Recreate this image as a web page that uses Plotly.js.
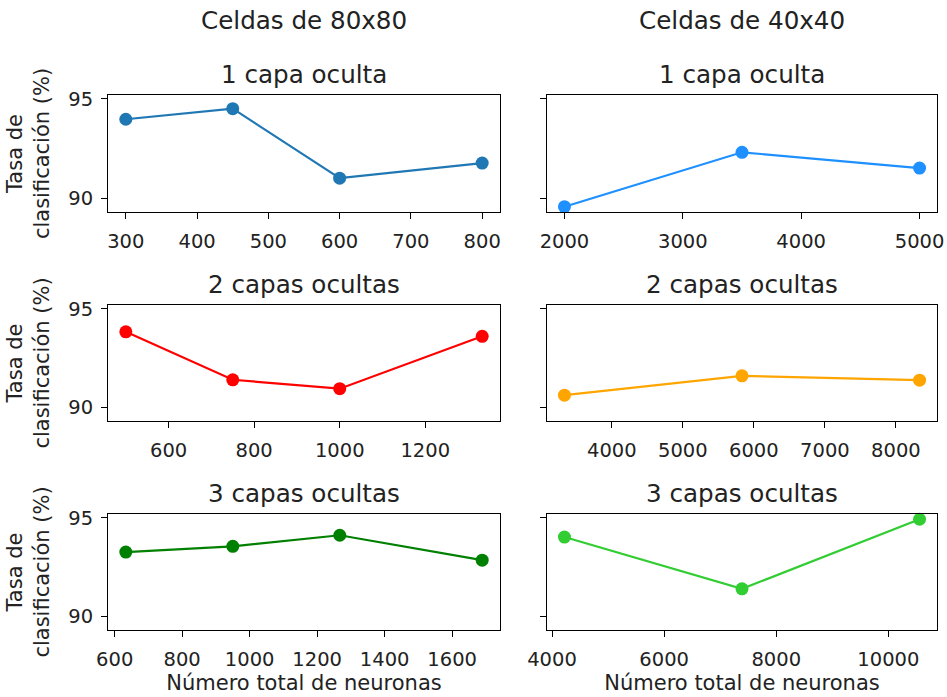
<!DOCTYPE html>
<html>
<head>
<meta charset="utf-8">
<script src="https://cdn.plot.ly/plotly-3.0.1.min.js"></script>
<style>html,body{margin:0;padding:0;background:#fff;}#chart{width:947px;height:697px;}</style>
</head>
<body>
<div id="chart"></div>
<script>
// ---- data ----
const colTitles = ["Celdas de 80x80", "Celdas de 40x40"];
const rowTitles = ["1 capa oculta", "2 capas ocultas", "3 capas ocultas"];

const x80_1 = [300, 450, 600, 800];
const y80_1 = [93.97, 94.50, 91.01, 91.77];
const x80_2 = [500, 750, 1000, 1333];
const y80_2 = [93.83, 91.40, 90.95, 93.60];
const x80_3 = [633, 950, 1267, 1689];
const y80_3 = [93.26, 93.55, 94.11, 92.85];

const x40_1 = [2000, 3500, 5000];
const y40_1 = [89.58, 92.31, 91.52];
const x40_2 = [3333, 5833, 8333];
const y40_2 = [90.62, 91.60, 91.38];
const x40_3 = [4222, 7389, 10556];
const y40_3 = [94.02, 91.40, 94.92];

const yTickVals = [90, 95];
const xLabel = "Número total de neuronas";
const yLabel = "Tasa de<br>clasificación (%)";

// ---- build ----
const W = 947, H = 697;
const font = "DejaVu Sans, sans-serif";
const TICK = 19.5, LABEL = 21, TITLE = 24.6;
function pad(a) {
  const mn = Math.min(...a), mx = Math.max(...a), d = (mx - mn) * 0.05;
  return [mn - d, mx + d];
}
const series = [
  {x: x80_1, y: y80_1, c: "#1f77b4", r: 0, col: 0, dt: 100},
  {x: x40_1, y: y40_1, c: "#1e90ff", r: 0, col: 1, dt: 1000},
  {x: x80_2, y: y80_2, c: "#ff0000", r: 1, col: 0, dt: 200},
  {x: x40_2, y: y40_2, c: "#ffa500", r: 1, col: 1, dt: 1000},
  {x: x80_3, y: y80_3, c: "#008000", r: 2, col: 0, dt: 200},
  {x: x40_3, y: y40_3, c: "#32cd32", r: 2, col: 1, dt: 2000}
];
const allY = [].concat(y80_1, y80_2, y80_3, y40_1, y40_2, y40_3);
const yRange = pad(allY);

const colPx = [[108, 500], [546.7, 937.3]];
const rowPx = [[95, 212], [305, 421], [514, 630]];

const traces = [];
const layout = {
  width: W, height: H,
  margin: {l: 0, r: 0, t: 0, b: 0},
  paper_bgcolor: "#fff", plot_bgcolor: "#fff",
  showlegend: false,
  font: {family: font, color: "#000", size: TICK},
  annotations: []
};

series.forEach((s, i) => {
  const n = i + 1;
  const sfx = n === 1 ? "" : String(n);
  const xa = "xaxis" + sfx, ya = "yaxis" + sfx;
  traces.push({
    x: s.x, y: s.y, type: "scatter", mode: "lines+markers",
    xaxis: "x" + sfx, yaxis: "y" + sfx,
    line: {color: s.c, width: 2.2},
    marker: {color: s.c, size: 13},
    cliponaxis: false, hoverinfo: "x+y"
  });
  const cp = colPx[s.col], rp = rowPx[s.r];
  layout[xa] = {
    domain: [cp[0] / W, cp[1] / W],
    anchor: "y" + sfx,
    range: pad(s.x), tick0: 0, dtick: s.dt, tickformat: "d",
    showgrid: false, zeroline: false,
    showline: true, mirror: true, linecolor: "#000", linewidth: 1,
    ticks: "outside", ticklen: 6, tickcolor: "#000", ticklabelstandoff: 6,
    tickfont: {size: TICK, family: font, color: "#222"}
  };
  if (s.r === 2) {
    layout[xa].title = {text: xLabel, font: {size: LABEL, family: font, color: "#222"}, standoff: 4};
  }
  layout[ya] = {
    domain: [1 - rp[1] / H, 1 - rp[0] / H],
    anchor: "x" + sfx,
    range: yRange, tickvals: yTickVals,
    showgrid: false, zeroline: false,
    showline: true, mirror: true, linecolor: "#000", linewidth: 1,
    ticks: "outside", ticklen: 6, tickcolor: "#000", ticklabelstandoff: 4,
    showticklabels: s.col === 0,
    tickfont: {size: TICK, family: font, color: "#222"}
  };
  if (s.col === 0) {
    layout[ya].title = {text: yLabel, font: {size: LABEL, family: font, color: "#222"}, standoff: 12};
  }
  layout.annotations.push({
    text: rowTitles[s.r], xref: "paper", yref: "paper",
    x: (cp[0] + cp[1]) / 2 / W, y: 1 - (rp[0] - 4) / H,
    xanchor: "center", yanchor: "bottom", showarrow: false,
    font: {size: TITLE, family: font, color: "#222"}
  });
});
colTitles.forEach((t, c) => {
  layout.annotations.push({
    text: t, xref: "paper", yref: "paper",
    x: (colPx[c][0] + colPx[c][1]) / 2 / W, y: 1 - 4 / H,
    xanchor: "center", yanchor: "top", showarrow: false,
    font: {size: TITLE, family: font, color: "#222"}
  });
});

Plotly.newPlot("chart", traces, layout, {displayModeBar: false, staticPlot: true});
</script>
</body>
</html>
